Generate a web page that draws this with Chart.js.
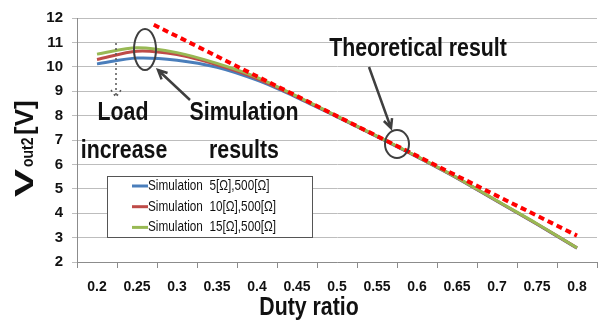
<!DOCTYPE html>
<html lang="en">
<head>
    <meta charset="UTF-8">
    <title>Vout2 vs duty ratio</title>
    <script src="https://cdn.jsdelivr.net/npm/chart.js"></script>
    <style>
        body { margin: 0; background: #fff; }
        #wrap { position: relative; width: 599px; height: 324px; }
    </style>
</head>
<body>
    <div id="wrap"><canvas id="chart"></canvas></div>
    <script>
        // data
        const xLabels = ['0.2', '0.25', '0.3', '0.35', '0.4', '0.45', '0.5', '0.55', '0.6', '0.65', '0.7', '0.75', '0.8'];
        const duty = [0.2, 0.25, 0.3, 0.35, 0.4, 0.45, 0.5, 0.55, 0.6, 0.65, 0.7, 0.75, 0.8];
        const sim5 = [10.12, 10.36, 10.27, 9.98, 9.45, 8.74, 7.95, 7.14, 6.31, 5.44, 4.49, 3.55, 2.57];
        const sim10 = [10.30, 10.64, 10.50, 10.08, 9.52, 8.77, 7.97, 7.15, 6.32, 5.45, 4.50, 3.56, 2.58];
        const sim15 = [10.52, 10.78, 10.58, 10.14, 9.57, 8.79, 7.98, 7.16, 6.33, 5.46, 4.51, 3.57, 2.58];
        const theoryDuty = [0.271, 0.3, 0.35, 0.4, 0.45, 0.5, 0.55, 0.6, 0.65, 0.7, 0.75, 0.8];
        const theoryV = [11.72, 11.25, 10.43, 9.61, 8.80, 7.98, 7.16, 6.35, 5.53, 4.71, 3.90, 3.08];
        const seriesNames = ['Simulation  5[\u03A9],500[\u03A9]', 'Simulation  10[\u03A9],500[\u03A9]', 'Simulation  15[\u03A9],500[\u03A9]'];
        const yMin = 2, yMax = 12;

        const FONT = '"Liberation Sans", Arial, sans-serif';
        Chart.defaults.font.family = FONT;
        Chart.defaults.color = '#111';

        function pts(xs, ys) {
            return xs.map((x, i) => ({ x: x, y: ys[i] }));
        }

        // condensed text: the original uses a narrow face
        function narrow(ctx, text, x, y, font, sx) {
            ctx.save();
            ctx.translate(x, y);
            ctx.scale(sx || 0.82, 1);
            ctx.font = font;
            ctx.fillText(text, 0, 0);
            ctx.restore();
        }

        function arrow(ctx, x1, y1, x2, y2) {
            const a = Math.atan2(y2 - y1, x2 - x1);
            ctx.beginPath();
            ctx.moveTo(x1, y1);
            ctx.lineTo(x2, y2);
            ctx.moveTo(x2 - 10 * Math.cos(a - 0.45), y2 - 10 * Math.sin(a - 0.45));
            ctx.lineTo(x2, y2);
            ctx.lineTo(x2 - 10 * Math.cos(a + 0.45), y2 - 10 * Math.sin(a + 0.45));
            ctx.stroke();
        }

        // axis titles, notes and legend box
        const extras = {
            id: 'extras',
            afterDraw(chart) {
                const ctx = chart.ctx;
                ctx.save();

                // legend
                ctx.fillStyle = '#fff';
                ctx.fillRect(107, 176, 205, 61);
                ctx.strokeStyle = '#555';
                ctx.lineWidth = 1;
                ctx.strokeRect(107.5, 176.5, 205, 61);
                ctx.textBaseline = 'middle';
                ctx.textAlign = 'left';
                for (let i = 0; i < 3; i++) {
                    const ds = chart.data.datasets[i];
                    const y = 186 + i * 20.7;
                    ctx.strokeStyle = ds.borderColor;
                    ctx.lineWidth = 3;
                    ctx.beginPath();
                    ctx.moveTo(132, y);
                    ctx.lineTo(148, y);
                    ctx.stroke();
                    ctx.fillStyle = '#111';
                    narrow(ctx, ds.label, 148, y, '14px ' + FONT, 0.84);
                }

                // annotation text
                ctx.fillStyle = '#111';
                ctx.textAlign = 'center';
                ctx.textBaseline = 'alphabetic';
                const big = 'bold 26px ' + FONT;
                narrow(ctx, 'Load', 123, 120, big);
                narrow(ctx, 'increase', 124, 158, big);
                narrow(ctx, 'Simulation', 244, 120, big);
                narrow(ctx, 'results', 244, 158, big);
                narrow(ctx, 'Theoretical result', 418, 56, big);
                narrow(ctx, 'Duty ratio', 309, 315, big);

                // ellipses and arrows
                ctx.strokeStyle = '#3f3f3f';
                ctx.lineWidth = 2;
                ctx.beginPath();
                ctx.ellipse(145, 49.5, 11, 20.5, 0, 0, Math.PI * 2);
                ctx.stroke();
                ctx.beginPath();
                ctx.ellipse(397, 144, 12, 14, 0, 0, Math.PI * 2);
                ctx.stroke();
                ctx.lineWidth = 2.5;
                arrow(ctx, 190, 100, 158, 70);
                arrow(ctx, 369, 67, 391, 128);

                // dotted load arrow
                ctx.strokeStyle = '#555';
                ctx.lineWidth = 1.5;
                ctx.setLineDash([2, 3]);
                ctx.beginPath();
                ctx.moveTo(116, 43);
                ctx.lineTo(116, 96);
                ctx.moveTo(111, 90);
                ctx.lineTo(116, 97);
                ctx.lineTo(121, 90);
                ctx.stroke();
                ctx.setLineDash([]);

                // y title: V + subscript out2 + [V]
                ctx.translate(33, 197);
                ctx.rotate(-Math.PI / 2);
                ctx.textAlign = 'left';
                ctx.fillStyle = '#111';
                ctx.save();
                ctx.scale(1, 0.62);
                ctx.font = 'bold 42px ' + FONT;
                ctx.fillText('V', 0, 0);
                ctx.restore();
                narrow(ctx, 'out2', 30, 0, 'bold 17px ' + FONT);
                ctx.font = 'bold 26px ' + FONT;
                ctx.fillText('[V]', 62, 0);
                ctx.restore();
            }
        };

        new Chart(document.getElementById('chart'), {
            type: 'line',
            data: {
                datasets: [
                    { label: seriesNames[0], data: pts(duty, sim5), borderColor: '#4a7ebb', borderWidth: 3, order: 3 },
                    { label: seriesNames[1], data: pts(duty, sim10), borderColor: '#be4b48', borderWidth: 3, order: 2 },
                    { label: seriesNames[2], data: pts(duty, sim15), borderColor: '#98b954', borderWidth: 3, order: 1 },
                    { label: 'Theoretical', data: pts(theoryDuty, theoryV), borderColor: '#ff0000', borderWidth: 4,
                      borderDash: [6, 4], tension: 0, order: 0 }
                ]
            },
            options: {
                responsive: true,
                maintainAspectRatio: false,
                animation: false,
                events: [],
                layout: { padding: { left: 0, right: 2, top: 4, bottom: 0 } },
                elements: {
                    point: { radius: 0 },
                    line: { tension: 0.3, fill: false, borderCapStyle: 'butt' }
                },
                plugins: {
                    legend: { display: false },
                    tooltip: { enabled: false }
                },
                scales: {
                    x: {
                        type: 'linear',
                        min: 0.175,
                        max: 0.825,
                        afterBuildTicks: axis => { axis.ticks = duty.map(v => ({ value: v })); },
                        afterFit: s => { s.height = 62; },
                        ticks: {
                            autoSkip: false,
                            maxRotation: 0,
                            padding: 11,
                            font: { size: 14, weight: 'bold' },
                            callback: (v, i) => xLabels[i]
                        },
                        grid: { offset: true, drawOnChartArea: false, tickLength: 6, color: '#8c8c8c' },
                        border: { display: true, color: '#8c8c8c' }
                    },
                    y: {
                        min: yMin,
                        max: yMax,
                        afterFit: s => { s.width = 77; },
                        ticks: { stepSize: 1, padding: 9, font: { size: 15, weight: 'bold' } },
                        grid: { color: '#bdbdbd', tickLength: 5 },
                        border: { display: true, color: '#8c8c8c' }
                    }
                }
            },
            plugins: [extras]
        });
    </script>
</body>
</html>
